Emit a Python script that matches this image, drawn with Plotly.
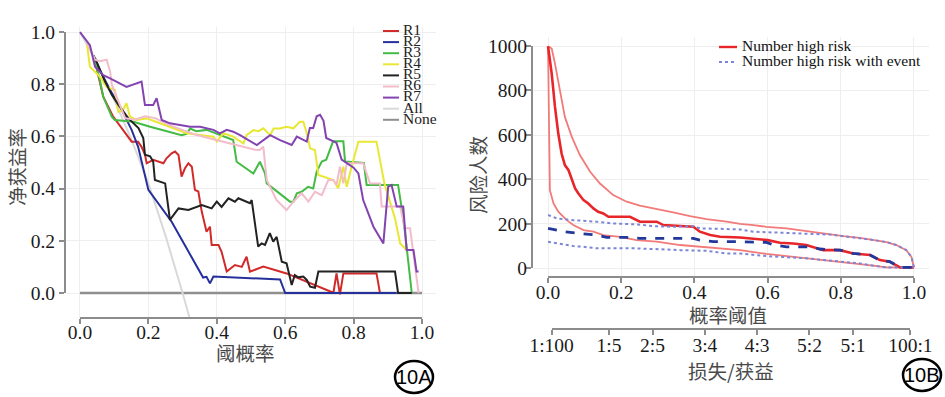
import plotly.graph_objects as go

W, H = 945, 397

# ---------------- Left panel: decision curves ----------------
r1_x = [0.04, 0.068, 0.097, 0.127, 0.151, 0.17, 0.18, 0.19, 0.195, 0.214, 0.234, 0.244, 0.253, 0.268, 0.278, 0.288,
        0.297, 0.307, 0.317, 0.327, 0.336, 0.346, 0.356, 0.37, 0.38, 0.385, 0.405, 0.414, 0.429, 0.453, 0.473, 0.487,
        0.497, 0.536, 0.604, 0.741, 0.75, 0.76, 0.77, 0.867, 0.877, 0.88]
r1_y = [0.91, 0.752, 0.676, 0.625, 0.58, 0.58, 0.56, 0.53, 0.497, 0.51, 0.503, 0.497, 0.516, 0.535, 0.542, 0.529,
        0.446, 0.478, 0.497, 0.484, 0.395, 0.389, 0.312, 0.235, 0.254, 0.184, 0.184, 0.158, 0.082, 0.107, 0.1, 0.139,
        0.082, 0.101, 0.075, 0.001, 0.075, -0.005, 0.075, 0.075, 0.0, 0.0]

r2_x = [0.04, 0.058, 0.088, 0.117, 0.151, 0.17, 0.2, 0.268, 0.36, 0.37, 0.38, 0.39, 0.585, 0.6, 0.926]
r2_y = [0.91, 0.854, 0.778, 0.714, 0.625, 0.56, 0.395, 0.273, 0.059, 0.062, 0.037, 0.063, 0.052, 0.0, 0.0]

r3_x = [0.04, 0.058, 0.068, 0.093, 0.102, 0.156, 0.205, 0.263, 0.297, 0.312, 0.322, 0.34, 0.37, 0.38, 0.448, 0.458,
        0.507, 0.526, 0.541, 0.546, 0.614, 0.624, 0.634, 0.648, 0.667, 0.682, 0.692, 0.707, 0.72, 0.74, 0.77, 0.775,
        0.83, 0.838, 0.93, 0.94, 0.95, 0.97]
r3_y = [0.91, 0.816, 0.752, 0.676, 0.663, 0.656, 0.637, 0.618, 0.605, 0.61, 0.63, 0.62, 0.625, 0.62, 0.586, 0.503,
        0.458, 0.503, 0.458, 0.42, 0.35, 0.35, 0.382, 0.388, 0.407, 0.401, 0.465, 0.504, 0.511, 0.581, 0.581, 0.504,
        0.498, 0.414, 0.414, 0.33, 0.235, 0.0]

r4_x = [0.02, 0.029, 0.058, 0.078, 0.102, 0.112, 0.125, 0.136, 0.146, 0.166, 0.195, 0.234, 0.273, 0.312, 0.351, 0.39,
        0.4, 0.419, 0.448, 0.478, 0.487, 0.507, 0.522, 0.536, 0.556, 0.566, 0.585, 0.604, 0.624, 0.643, 0.653, 0.663,
        0.673, 0.687, 0.697, 0.741, 0.755, 0.77, 0.78, 0.794, 0.814, 0.867, 0.89, 0.921, 0.936, 0.955]
r4_y = [0.957, 0.867, 0.829, 0.79, 0.778, 0.695, 0.70, 0.727, 0.676, 0.663, 0.669, 0.65, 0.631, 0.612, 0.605, 0.599,
        0.58, 0.612, 0.599, 0.573, 0.605, 0.624, 0.62, 0.631, 0.605, 0.63, 0.63, 0.637, 0.631, 0.656, 0.656, 0.612,
        0.554, 0.548, 0.452, 0.433, 0.401, 0.484, 0.407, 0.484, 0.58, 0.58, 0.42, 0.286, 0.19, 0.165]

r5_x = [0.044, 0.073, 0.093, 0.112, 0.141, 0.171, 0.185, 0.19, 0.205, 0.214, 0.219, 0.249, 0.263, 0.288, 0.317, 0.356,
        0.385, 0.4, 0.414, 0.434, 0.453, 0.463, 0.497, 0.502, 0.521, 0.531, 0.541, 0.555, 0.565, 0.575, 0.58, 0.59,
        0.604, 0.619, 0.628, 0.638, 0.653, 0.663, 0.673, 0.687, 0.697, 0.921, 0.93, 0.97]
r5_y = [0.9, 0.811, 0.76, 0.722, 0.67, 0.632, 0.594, 0.53, 0.524, 0.504, 0.433, 0.42, 0.28, 0.324, 0.318, 0.337,
        0.324, 0.35, 0.33, 0.363, 0.35, 0.363, 0.344, 0.356, 0.178, 0.19, 0.184, 0.229, 0.197, 0.215, 0.184, 0.12,
        0.114, 0.031, 0.069, 0.06, 0.063, 0.05, 0.024, 0.02, 0.082, 0.082, 0.0, 0.0]

r6_x = [0.02, 0.044, 0.058, 0.078, 0.088, 0.093, 0.132, 0.161, 0.19, 0.22, 0.258, 0.297, 0.337, 0.375, 0.414, 0.453,
        0.512, 0.526, 0.536, 0.546, 0.575, 0.604, 0.624, 0.648, 0.668, 0.687, 0.707, 0.726, 0.741, 0.75, 0.76, 0.77,
        0.78, 0.828, 0.848, 0.877, 0.882, 0.936, 0.95, 0.965, 0.99]
r6_y = [0.96, 0.894, 0.888, 0.894, 0.85, 0.798, 0.67, 0.664, 0.677, 0.67, 0.645, 0.626, 0.607, 0.594, 0.581, 0.568,
        0.549, 0.548, 0.561, 0.433, 0.356, 0.318, 0.35, 0.382, 0.35, 0.388, 0.375, 0.433, 0.433, 0.414, 0.484, 0.42,
        0.497, 0.497, 0.42, 0.42, 0.331, 0.331, 0.248, 0.248, 0.0]

r7_x = [0.0, 0.029, 0.044, 0.068, 0.088, 0.136, 0.18, 0.19, 0.214, 0.224, 0.239, 0.263, 0.292, 0.322, 0.351, 0.37,
        0.39, 0.409, 0.429, 0.448, 0.468, 0.517, 0.536, 0.556, 0.585, 0.619, 0.634, 0.663, 0.672, 0.682, 0.692, 0.702,
        0.712, 0.72, 0.75, 0.765, 0.80, 0.814, 0.828, 0.858, 0.887, 0.901, 0.911, 0.926, 0.945, 0.955, 0.975, 0.984,
        0.99]
r7_y = [1.0, 0.95, 0.867, 0.835, 0.822, 0.79, 0.81, 0.72, 0.72, 0.746, 0.663, 0.65, 0.644, 0.637, 0.637, 0.631,
        0.625, 0.612, 0.625, 0.618, 0.605, 0.567, 0.586, 0.605, 0.586, 0.567, 0.599, 0.58, 0.632, 0.632, 0.677, 0.683,
        0.66, 0.594, 0.575, 0.511, 0.48, 0.458, 0.356, 0.254, 0.19, 0.407, 0.414, 0.331, 0.331, 0.165, 0.165, 0.082,
        0.082]

all_x = [0.0, 0.05, 0.1, 0.15, 0.2, 0.25, 0.3, 0.33]
all_y = [1.0, 0.88, 0.74, 0.59, 0.42, 0.22, 0.0, -0.14]

none_x = [0.0, 1.0]
none_y = [0.0, 0.0]

left_names = ["R1", "R2", "R3", "R4", "R5", "R6", "R7", "All", "None"]
left_colors = ["#d12a2a", "#26309c", "#44bb44", "#e8e834", "#222222", "#f2bccb", "#8344b2", "#d9d9d9", "#8f8f8f"]
left_xs = [r1_x, r2_x, r3_x, r4_x, r5_x, r6_x, r7_x, all_x, none_x]
left_ys = [r1_y, r2_y, r3_y, r4_y, r5_y, r6_y, r7_y, all_y, none_y]
left_ticks = [0.0, 0.2, 0.4, 0.6, 0.8, 1.0]
left_ticktext = ["0.0", "0.2", "0.4", "0.6", "0.8", "1.0"]
left_xtitle = "阈概率"
left_ytitle = "净获益率"

# ---------------- Right panel: clinical impact curve ----------------
hr_x = [0, 0.01, 0.019, 0.028, 0.037, 0.046, 0.056, 0.065, 0.074, 0.083, 0.097, 0.11, 0.124, 0.137, 0.151, 0.165,
        0.224, 0.251, 0.297, 0.315, 0.397, 0.415, 0.443, 0.47, 0.525, 0.6, 0.634, 0.67, 0.706, 0.752, 0.798, 0.834,
        0.88, 0.907, 0.934, 0.962, 1.0]
hr_y = [1000, 877, 727, 607, 517, 465, 442, 405, 360, 337, 307, 292, 270, 255, 247, 232, 232, 210, 210, 195, 187,
        165, 150, 142, 139, 127, 115, 112, 105, 82, 82, 67, 60, 37, 30, 4, 4]

hr_hi_x = [0, 0.01, 0.019, 0.033, 0.046, 0.065, 0.087, 0.115, 0.142, 0.178, 0.215, 0.251, 0.297, 0.342, 0.388, 0.433,
           0.488, 0.525, 0.561, 0.597, 0.652, 0.706, 0.743, 0.77, 0.807, 0.852, 0.889, 0.925, 0.952, 0.979, 0.993, 1.0]
hr_hi_y = [1000, 990, 922, 802, 682, 592, 510, 435, 382, 330, 300, 282, 268, 252, 235, 222, 210, 200, 195, 187, 180,
           167, 158, 152, 145, 137, 128, 118, 105, 82, 52, 4]

hr_lo_x = [0, 0.005, 0.015, 0.028, 0.051, 0.069, 0.097, 0.124, 0.151, 0.197, 0.242, 0.297, 0.361, 0.415, 0.47, 0.525,
           0.597, 0.652, 0.706, 0.743, 0.798, 0.852, 0.889, 0.925, 1.0]
hr_lo_y = [1000, 352, 292, 255, 217, 195, 172, 165, 150, 142, 127, 120, 105, 97, 90, 82, 65, 55, 47, 40, 30, 22, 12,
           4, 4]

ev_x = [0, 0.044, 0.087, 0.133, 0.16, 0.215, 0.251, 0.397, 0.415, 0.452, 0.525, 0.597, 0.616, 0.652, 0.716, 0.743,
        0.798, 0.834, 0.88, 0.907, 0.934, 0.962, 1.0]
ev_y = [180, 165, 157, 150, 139, 139, 135, 135, 127, 120, 120, 117, 105, 97, 97, 87, 82, 67, 60, 37, 30, 4, 4]

ev_hi_x = [0, 0.024, 0.069, 0.115, 0.133, 0.178, 0.242, 0.288, 0.342, 0.397, 0.415, 0.47, 0.525, 0.561, 0.652, 0.743,
           0.77, 0.807, 0.852, 0.889, 0.925, 0.952, 0.979, 0.993, 1.0]
ev_hi_y = [240, 225, 217, 214, 210, 202, 198, 190, 187, 190, 180, 178, 175, 165, 160, 154, 152, 145, 137, 128, 118,
           105, 82, 52, 4]

ev_lo_x = [0, 0.033, 0.069, 0.097, 0.133, 0.242, 0.297, 0.361, 0.433, 0.488, 0.525, 0.597, 0.706, 0.743, 0.798,
           0.852, 0.889, 0.925, 1.0]
ev_lo_y = [120, 109, 100, 97, 90, 90, 85, 82, 79, 67, 67, 55, 45, 40, 30, 22, 12, 4, 4]

right_xticks = [0.0, 0.2, 0.4, 0.6, 0.8, 1.0]
right_xticktext = ["0.0", "0.2", "0.4", "0.6", "0.8", "1.0"]
right_yticks = [0, 200, 400, 600, 800, 1000]
cost_benefit = [(1, 100), (1, 5), (2, 5), (3, 4), (4, 3), (5, 2), (5, 1), (100, 1)]
right_names = ["Number high risk", "Number high risk with event"]
right_xtitle = "概率阈值"
right_ytitle = "风险人数"
right_cbtitle = "损失/获益"

# ---------------- helpers (pixel -> paper) ----------------
def fx(p):
    return p / W


def fy(p):
    return 1 - p / H


SERIF = "Liberation Serif"
CJK = "Noto Sans CJK SC"
AX = "#8c8c8c"
GRID = "#eeeeee"
TICKFONT = dict(family=SERIF, size=19.5, color="#1a1a1a")
TITLEFONT = dict(family=CJK, size=19.5, color="#4a4a4a")

fig = go.Figure()

# Left curves: None & All drawn first, then R1..R7
order = [8, 7, 0, 1, 2, 3, 4, 5, 6]
for i in order:
    fig.add_trace(go.Scatter(x=left_xs[i], y=left_ys[i], mode="lines", name=left_names[i],
                             line=dict(color=left_colors[i], width=2.6 if i == 8 else 2),
                             xaxis="x", yaxis="y", showlegend=False))

# Right curves
red = "#e8262a"
light_red = "#f27a78"
navy = "#22389a"
dot_blue = "#7c86d6"
fig.add_trace(go.Scatter(x=hr_hi_x, y=hr_hi_y, mode="lines", line=dict(color=light_red, width=1.8),
                         xaxis="x2", yaxis="y2", showlegend=False))
fig.add_trace(go.Scatter(x=hr_lo_x, y=hr_lo_y, mode="lines", line=dict(color=light_red, width=1.8),
                         xaxis="x2", yaxis="y2", showlegend=False))
fig.add_trace(go.Scatter(x=hr_x, y=hr_y, mode="lines", name=right_names[0], line=dict(color=red, width=2.6),
                         xaxis="x2", yaxis="y2", showlegend=False))
fig.add_trace(go.Scatter(x=ev_hi_x, y=ev_hi_y, mode="lines", line=dict(color=dot_blue, width=2, dash="dot"),
                         xaxis="x2", yaxis="y2", showlegend=False))
fig.add_trace(go.Scatter(x=ev_lo_x, y=ev_lo_y, mode="lines", line=dict(color=dot_blue, width=2, dash="dot"),
                         xaxis="x2", yaxis="y2", showlegend=False))
fig.add_trace(go.Scatter(x=ev_x, y=ev_y, mode="lines", name=right_names[1],
                         line=dict(color=navy, width=2.8, dash="dash"),
                         xaxis="x2", yaxis="y2", showlegend=False))

# placeholder traces so the decorative axes are drawn
fig.add_trace(go.Scatter(x=[None], y=[None], xaxis="x3", yaxis="y3", showlegend=False, hoverinfo="skip"))
fig.add_trace(go.Scatter(x=[None], y=[None], xaxis="x4", yaxis="y4", showlegend=False, hoverinfo="skip"))
fig.add_trace(go.Scatter(x=[None], y=[None], xaxis="x5", yaxis="y4", showlegend=False, hoverinfo="skip"))

# Manual compact legends on an overlay axis measured in pixels
leg_rows = [31 + 11.1 * i for i in range(len(left_names))]
for i, nm in enumerate(left_names):
    fig.add_trace(go.Scatter(x=[383, 399], y=[leg_rows[i], leg_rows[i]], mode="lines",
                             line=dict(color=left_colors[i], width=2), xaxis="x6", yaxis="y6",
                             showlegend=False, hoverinfo="skip"))
fig.add_trace(go.Scatter(x=[403] * len(left_names), y=leg_rows, mode="text", text=left_names,
                         textposition="middle right", textfont=dict(family=SERIF, size=15.5, color="#222222"),
                         xaxis="x6", yaxis="y6", showlegend=False, hoverinfo="skip"))
r_rows = [47, 62]
fig.add_trace(go.Scatter(x=[719, 737], y=[r_rows[0]] * 2, mode="lines", line=dict(color=red, width=2.4),
                         xaxis="x6", yaxis="y6", showlegend=False, hoverinfo="skip"))
fig.add_trace(go.Scatter(x=[719, 737], y=[r_rows[1]] * 2, mode="lines",
                         line=dict(color=dot_blue, width=2, dash="dot"),
                         xaxis="x6", yaxis="y6", showlegend=False, hoverinfo="skip"))
fig.add_trace(go.Scatter(x=[742, 742], y=r_rows, mode="text", text=right_names, textposition="middle right",
                         textfont=dict(family=SERIF, size=15.5, color="#111111"),
                         xaxis="x6", yaxis="y6", showlegend=False, hoverinfo="skip"))

cb_vals = [a / (a + b) for a, b in cost_benefit]
cb_text = [f"{a}:{b}" for a, b in cost_benefit]

data_ax = dict(showgrid=True, gridcolor=GRID, gridwidth=1, showline=False, zeroline=False,
               showticklabels=False, ticks="", fixedrange=True, automargin=False)
deco_ax = dict(showgrid=False, zeroline=False, showline=True, linecolor=AX, linewidth=2,
               ticks="outside", ticklen=5, tickwidth=2, tickcolor=AX, tickfont=TICKFONT, anchor="free",
               automargin=False, fixedrange=True)

fig.update_layout(
    width=W, height=H, autosize=False,
    margin=dict(l=0, r=0, t=0, b=0, pad=0, autoexpand=False),
    paper_bgcolor="white", plot_bgcolor="rgba(0,0,0,0)",
    showlegend=False,
    # left data axes
    xaxis=dict(domain=[fx(66.3), fx(435.7)], range=[-0.04, 1.04], tickvals=left_ticks, anchor="y", **data_ax),
    yaxis=dict(domain=[fy(318), fy(26.8)], range=[-0.0958, 1.02], tickvals=left_ticks, anchor="x", **data_ax),
    # left decorative axes
    xaxis3=dict(domain=[fx(80), fx(422)], range=[0, 1], position=fy(318), tickvals=left_ticks,
                ticktext=left_ticktext, ticklabelstandoff=-8, **deco_ax),
    yaxis3=dict(domain=[fy(293), fy(32)], range=[0, 1], position=fx(65), tickvals=left_ticks,
                ticktext=left_ticktext, **deco_ax),
    # right data axes
    xaxis2=dict(domain=[fx(533.4), fx(928.6)], range=[-0.04, 1.04], tickvals=right_xticks, anchor="y2", **data_ax),
    yaxis2=dict(domain=[fy(277), fy(37.4)], range=[-39, 1040], tickvals=right_yticks, anchor="x2", **data_ax),
    # right decorative axes
    xaxis4=dict(domain=[fx(548), fx(914)], range=[0, 1], position=fy(277), tickvals=right_xticks,
                ticktext=right_xticktext, ticklabelstandoff=-7, **deco_ax),
    yaxis4=dict(domain=[fy(268.3), fy(46)], range=[0, 1000], position=fx(532), tickvals=right_yticks,
                ticktext=[str(v) for v in right_yticks], ticklabelstandoff=-5, **deco_ax),
    xaxis5=dict(domain=[fx(548 + 366 * cb_vals[0]), fx(548 + 366 * cb_vals[-1])],
                range=[cb_vals[0], cb_vals[-1]], position=fy(329), tickvals=cb_vals, ticktext=cb_text,
                ticklabelstandoff=-6, **deco_ax),
    # overlay (pixel) axes for legends
    xaxis6=dict(domain=[0, 1], range=[0, W], visible=False, anchor="y6", fixedrange=True, automargin=False),
    yaxis6=dict(domain=[0, 1], range=[H, 0], visible=False, anchor="x6", fixedrange=True, automargin=False),
)

# axis titles
for txt, cx, cy, ang in [(left_xtitle, 245, 352, 0), (left_ytitle, 16, 167, -90),
                         (right_xtitle, 728, 314, 0), (right_ytitle, 477, 175, -90),
                         (right_cbtitle, 731, 370, 0)]:
    fig.add_annotation(x=fx(cx), y=fy(cy), xref="paper", yref="paper", text=txt, showarrow=False,
                       xanchor="center", yanchor="middle", textangle=ang, font=TITLEFONT)

# panel badges
for label, cx, cy in [("10A", 414, 377), ("10B", 922, 375)]:
    fig.add_shape(type="circle", xref="paper", yref="paper",
                  x0=fx(cx - 19), x1=fx(cx + 19), y0=fy(cy + 16), y1=fy(cy - 16),
                  line=dict(color="black", width=2.5))
    fig.add_annotation(x=fx(cx), y=fy(cy), xref="paper", yref="paper", text=label, showarrow=False,
                       xanchor="center", yanchor="middle",
                       font=dict(family="Liberation Sans", size=20, color="black"))

fig.write_html("out.html", config={"displayModeBar": False},
               post_script="document.body.style.margin='0';")
